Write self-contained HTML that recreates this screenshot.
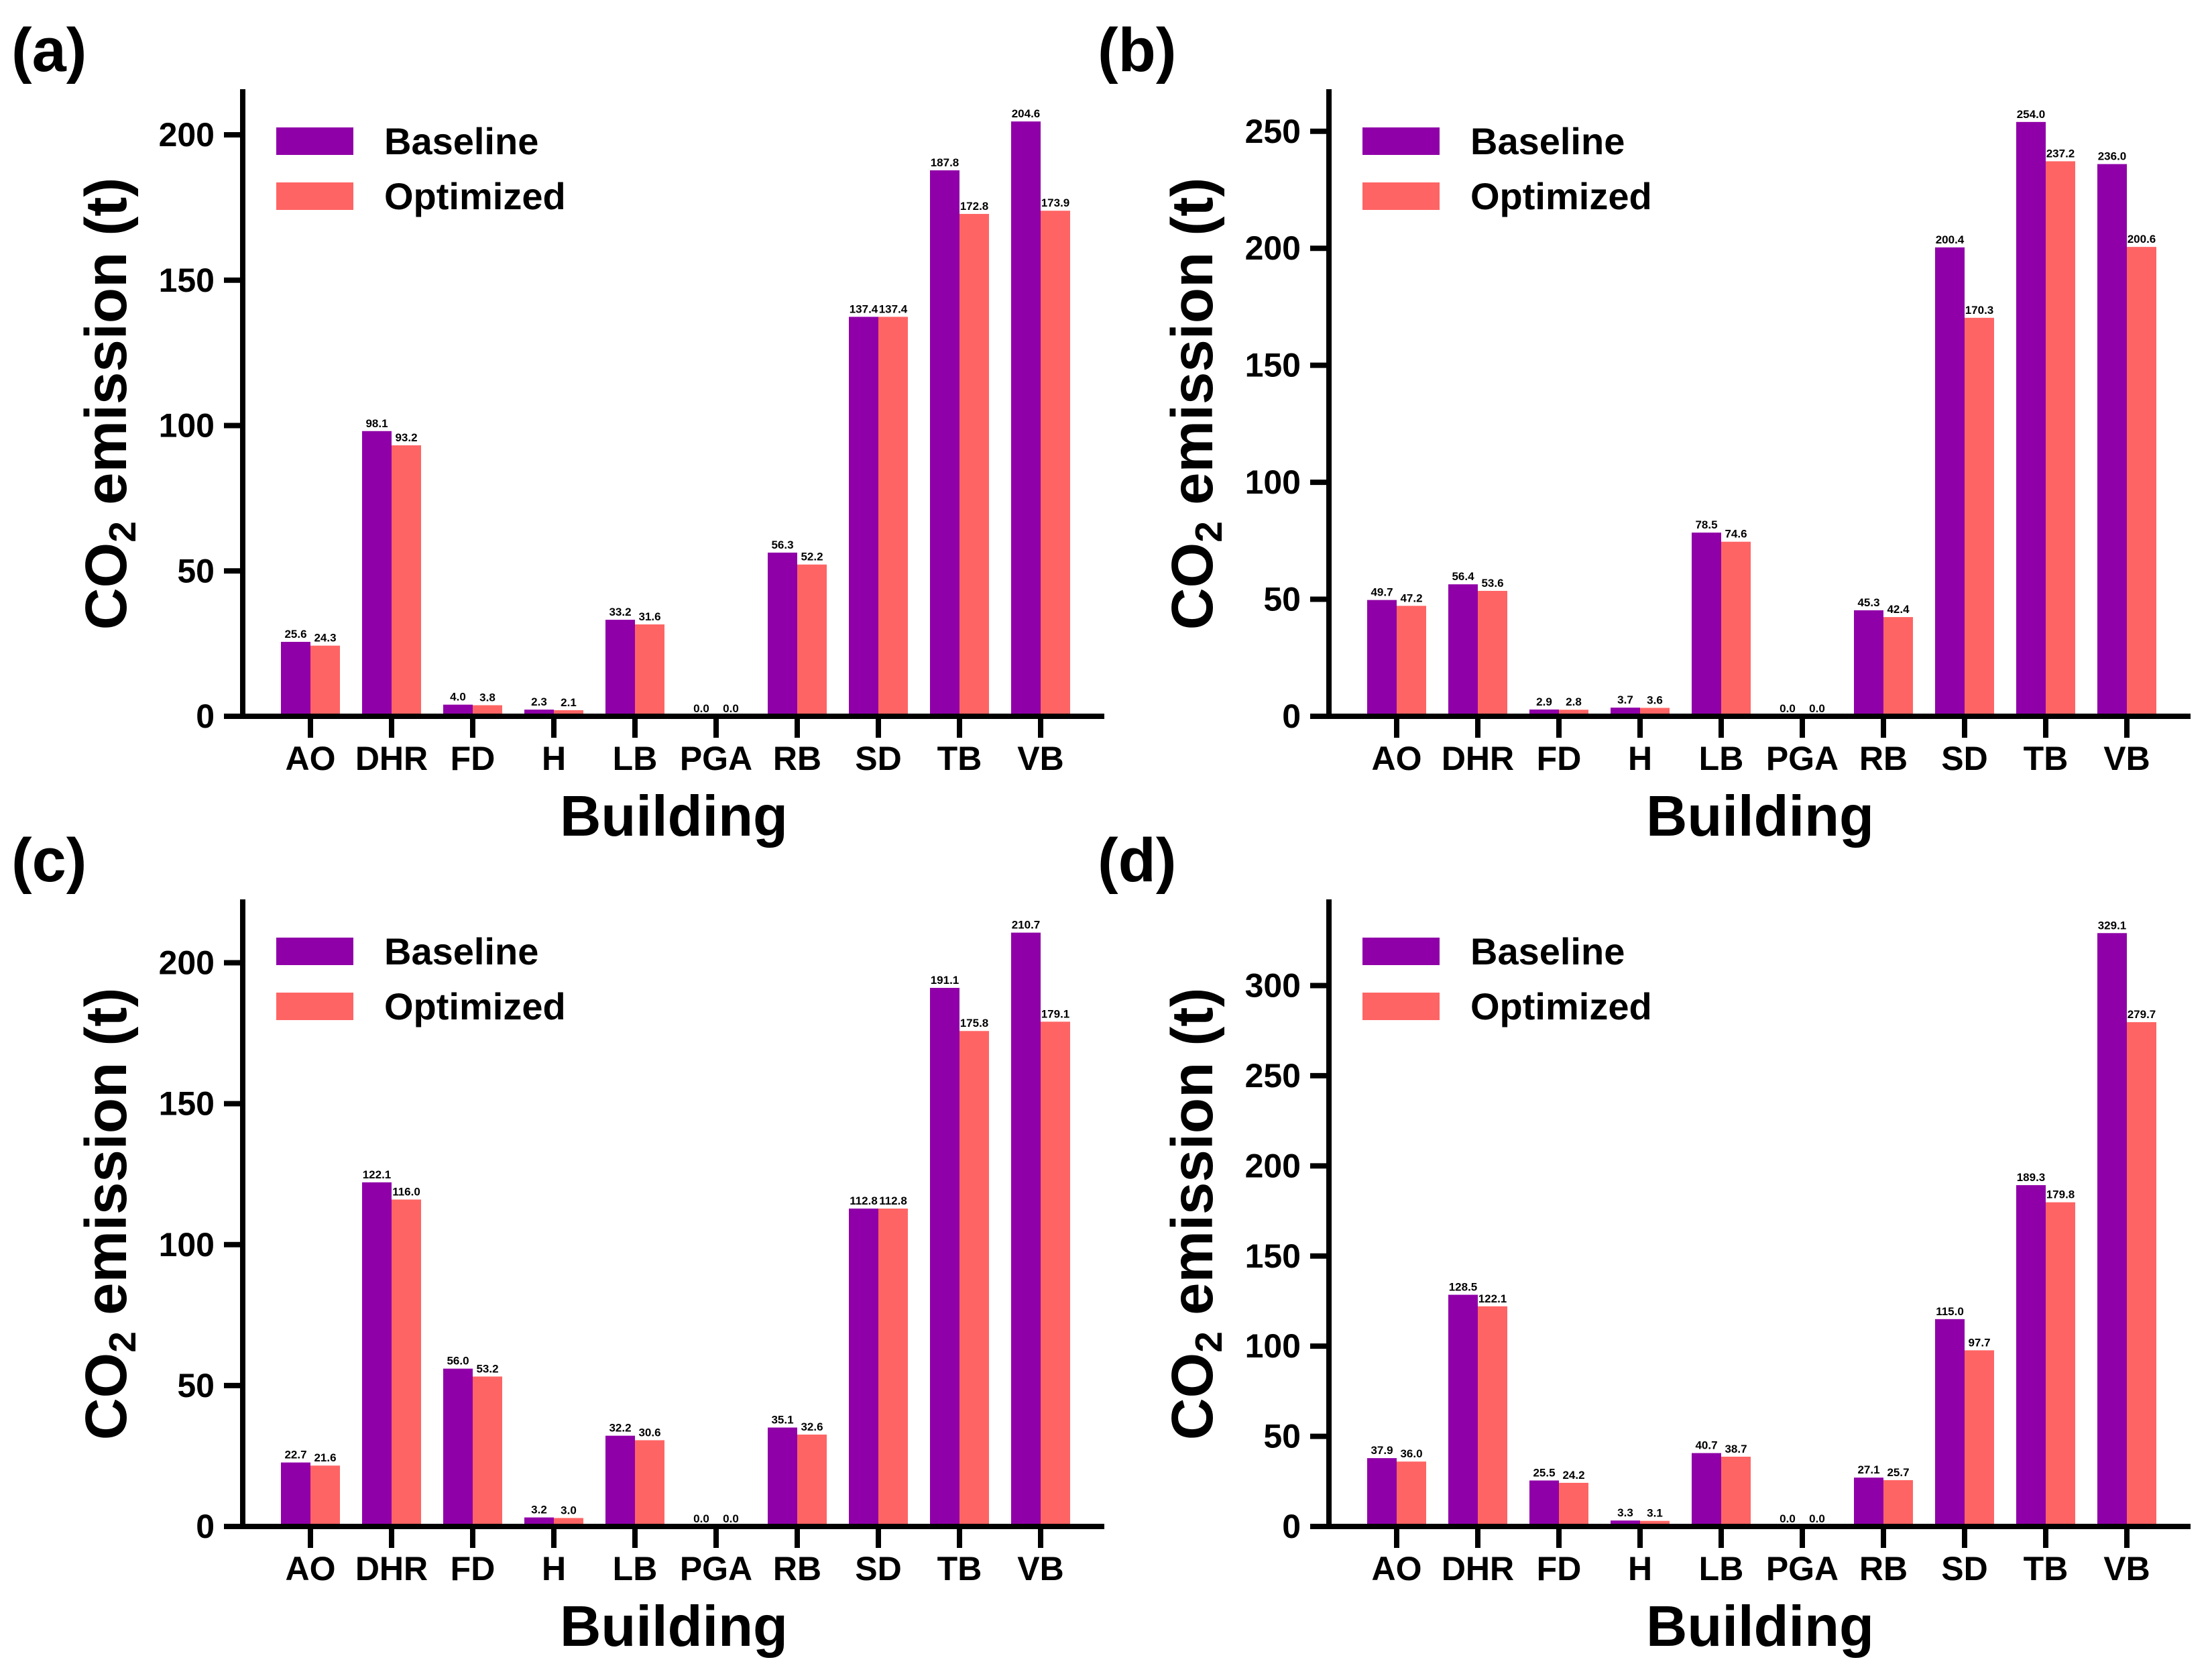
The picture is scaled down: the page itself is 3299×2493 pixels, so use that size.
<!DOCTYPE html>
<html><head><meta charset="utf-8"><style>
html,body{margin:0;padding:0;background:#fff}
svg{display:block}
text{font-family:"Liberation Sans",Arial,sans-serif;font-weight:bold;fill:#000}
</style></head><body>
<svg id="fig" width="3299" height="2493" viewBox="0 0 3299 2493" xmlns="http://www.w3.org/2000/svg"></svg>
<script>
const categories = ["AO","DHR","FD","H","LB","PGA","RB","SD","TB","VB"];
const baselineA = [25.6,98.1,4.0,2.3,33.2,0.0,56.3,137.4,187.8,204.6];
const optimizedA = [24.3,93.2,3.8,2.1,31.6,0.0,52.2,137.4,172.8,173.9];
const baselineB = [49.7,56.4,2.9,3.7,78.5,0.0,45.3,200.4,254.0,236.0];
const optimizedB = [47.2,53.6,2.8,3.6,74.6,0.0,42.4,170.3,237.2,200.6];
const baselineC = [22.7,122.1,56.0,3.2,32.2,0.0,35.1,112.8,191.1,210.7];
const optimizedC = [21.6,116.0,53.2,3.0,30.6,0.0,32.6,112.8,175.8,179.1];
const baselineD = [37.9,128.5,25.5,3.3,40.7,0.0,27.1,115.0,189.3,329.1];
const optimizedD = [36.0,122.1,24.2,3.1,38.7,0.0,25.7,97.7,179.8,279.7];
const ticksA = [0,50,100,150,200];
const ticksB = [0,50,100,150,200,250];
const ticksC = [0,50,100,150,200];
const ticksD = [0,50,100,150,200,250,300];
const maxA = 215.7, maxB = 268, maxC = 222.5, maxD = 347.8;

const NS = "http://www.w3.org/2000/svg";
const svg = document.getElementById('fig');
function mk(tag, attrs, parent, txt){
  const e = document.createElementNS(NS, tag);
  for (const k in attrs) e.setAttribute(k, attrs[k]);
  if (txt !== undefined) e.textContent = txt;
  parent.appendChild(e);
  return e;
}
function panel(id, dx, dy, base, opt, ticks, vmax){
  const g = mk('g', {transform:`translate(${dx},${dy})`}, svg);
  
  
  const x0 = 362, x1 = 1647, yTop = 133, y0 = 1068;
  const ys = v => y0 - (v / vmax) * (y0 - yTop);
  const xc = i => 463 + i * 121;
  const bw = 44;
  const lbl = mk('text', {x:17, y:106, 'font-size':92}, g, '(' + id + ')');
  
  
  // bars
  categories.forEach((c, i) => {
    const hb = y0 - ys(base[i]), ho = y0 - ys(opt[i]);
    const rb = mk('rect', {x:xc(i)-bw, y:ys(base[i]), width:bw, height:hb, fill:'#9000A8'}, g);
    
    
    const ro = mk('rect', {x:xc(i), y:ys(opt[i]), width:bw, height:ho, fill:'#FF6464'}, g);
    
    
    const vb = mk('text', {x:xc(i)-bw/2, y:ys(base[i])-6, 'font-size':17, 'text-anchor':'middle'}, g, base[i].toFixed(1));
    
    
    const vo = mk('text', {x:xc(i)+bw/2, y:ys(opt[i])-6, 'font-size':17, 'text-anchor':'middle'}, g, opt[i].toFixed(1));
    
    
    const tk = mk('line', {x1:xc(i), x2:xc(i), y1:y0, y2:y0+32, stroke:'#000', 'stroke-width':8}, g);
    
    
    const tl = mk('text', {x:xc(i), y:1148, 'font-size':50, 'text-anchor':'middle'}, g, c);
    
    
  });
  // axes
  const ya = mk('line', {x1:x0, x2:x0, y1:yTop, y2:y0+4, stroke:'#000', 'stroke-width':8}, g);
  
  
  const xa = mk('line', {x1:x0-4, x2:x1, y1:y0, y2:y0, stroke:'#000', 'stroke-width':8}, g);
  
  
  ticks.forEach(t => {
    const ty = ys(t);
    const tm = mk('line', {x1:x0-28, x2:x0, y1:ty, y2:ty, stroke:'#000', 'stroke-width':8}, g);
    
    
    const tt = mk('text', {x:x0-42, y:ty+17, 'font-size':50, 'text-anchor':'end'}, g, String(t));
    
    
  });
  // y title
  const yt = mk('text', {transform:'translate(188,602) rotate(-90)', 'font-size':87, 'text-anchor':'middle'}, g);
  
  
  mk('tspan', {}, yt, 'CO');
  mk('tspan', {'font-size':57, dy:14}, yt, '2');
  mk('tspan', {dy:-14}, yt, ' emission (t)');
  const xt = mk('text', {x:1005, y:1246, 'font-size':85, 'text-anchor':'middle'}, g, 'Building');
  
  
  // legend
  const s1 = mk('rect', {x:412, y:190, width:115, height:41, fill:'#9000A8'}, g);
  
  
  const l1 = mk('text', {x:573, y:230, 'font-size':56}, g, 'Baseline');
  
  
  const s2 = mk('rect', {x:412, y:272, width:115, height:41, fill:'#FF6464'}, g);
  
  
  const l2 = mk('text', {x:573, y:312, 'font-size':56}, g, 'Optimized');
  
  
}
panel('a', 0, 0, baselineA, optimizedA, ticksA, maxA);
panel('b', 1620, 0, baselineB, optimizedB, ticksB, maxB);
panel('c', 0, 1208, baselineC, optimizedC, ticksC, maxC);
panel('d', 1620, 1208, baselineD, optimizedD, ticksD, maxD);
</script>
</body></html>
